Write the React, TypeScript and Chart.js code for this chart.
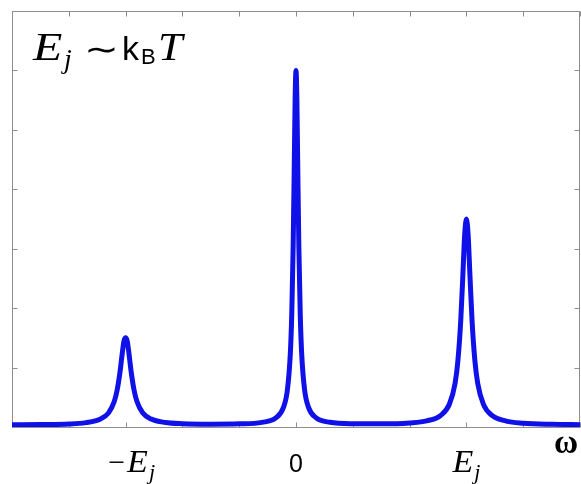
import { useEffect, useRef } from 'react';
import { Chart, registerables } from 'chart.js';

Chart.register(...registerables);

// Spectral density sampled along ω (in units where E_j = 3)
const omega = [
  -5.0, -4.5, -4.0, -3.7, -3.45, -3.3, -3.2, -3.15, -3.1, -3.06, -3.03, -3.0,
  -2.97, -2.94, -2.9, -2.85, -2.8, -2.7, -2.55, -2.3, -2.0, -1.5, -1.0, -0.6,
  -0.35, -0.22, -0.15, -0.1, -0.075, -0.05, -0.03, -0.015, 0.0, 0.015, 0.03,
  0.05, 0.075, 0.1, 0.15, 0.22, 0.35, 0.6, 1.0, 1.5, 2.0, 2.3, 2.55, 2.7, 2.8,
  2.85, 2.9, 2.94, 2.97, 3.0, 3.03, 3.06, 3.1, 3.15, 3.2, 3.3, 3.45, 3.7, 4.0,
  4.5, 5.0,
];
const intensity = [
  0.036, 0.04, 0.05, 0.074, 0.131, 0.238, 0.428, 0.616, 0.916, 1.23, 1.44, 1.5,
  1.44, 1.23, 0.916, 0.616, 0.428, 0.24, 0.133, 0.076, 0.056, 0.048, 0.053,
  0.078, 0.156, 0.331, 0.636, 1.236, 1.886, 3.036, 4.446, 5.536, 6.0, 5.536,
  4.446, 3.036, 1.886, 1.236, 0.636, 0.331, 0.158, 0.079, 0.055, 0.053, 0.069,
  0.103, 0.197, 0.382, 0.73, 1.11, 1.78, 2.6, 3.24, 3.5, 3.24, 2.6, 1.78, 1.11,
  0.73, 0.38, 0.195, 0.1, 0.065, 0.046, 0.039,
];

// Axis extents and minor tick positions
const xRange = [-5, 5];
const yRange = [0, 7];
const xTicks = [-5, -4, -3, -2, -1, 0, 1, 2, 3, 4, 5];
const yTicks = [0, 1, 2, 3, 4, 5, 6, 7];

// Labelled positions on ω
const labelValues = [-3, 0, 3];
const labelTexts = ['−E_j', '0', 'E_j'];

type Seg = { t: string; font: string; dy?: number; gap?: number; at?: number; sx?: number };

const SERIF = '"Liberation Serif", "DejaVu Serif", serif';
const SANS = '"Liberation Sans", Arial, sans-serif';

function drawSegs(ctx: CanvasRenderingContext2D, segs: Seg[], x: number, base: number, align: 'left' | 'center') {
  let total = 0;
  for (const s of segs) {
    ctx.font = s.font;
    total += (s.gap || 0) + ctx.measureText(s.t).width * (s.sx || 1);
  }
  let cx = align === 'center' ? x - total / 2 : x;
  ctx.textAlign = 'left';
  ctx.textBaseline = 'alphabetic';
  for (const s of segs) {
    ctx.font = s.font;
    cx = s.at !== undefined ? s.at : cx + (s.gap || 0);
    const sx = s.sx || 1;
    ctx.save();
    ctx.translate(cx, base + (s.dy || 0));
    ctx.scale(sx, 1);
    ctx.fillText(s.t, 0, 0);
    ctx.restore();
    cx += ctx.measureText(s.t).width * sx;
  }
}

function labelSegs(text: string): Seg[] {
  if (text === '0') return [{ t: '0', font: `25px ${SANS}` }];
  const neg = text.startsWith('−');
  const segs: Seg[] = [];
  if (neg) segs.push({ t: '−', font: `30px ${SERIF}` });
  segs.push({ t: 'E', font: `italic 31px ${SERIF}`, gap: neg ? 2 : 0, sx: 1.1 });
  segs.push({ t: 'j', font: `italic 22px ${SERIF}`, dy: 7, gap: 1 });
  return segs;
}

const frame = {
  id: 'frame',
  beforeDatasetsDraw(chart: any) {
    const { ctx, chartArea: a, scales } = chart;
    const x = scales.x;
    const y = scales.y;
    ctx.save();
    ctx.strokeStyle = '#8e8e8e';
    ctx.lineWidth = 1;
    const L = Math.round(a.left) + 0.5;
    const R = Math.round(a.right) - 0.5;
    const T = Math.round(a.top) + 0.5;
    const B = Math.round(a.bottom) + 0.5;
    ctx.strokeRect(L, T, R - L, B - T);
    ctx.beginPath();
    const len = 5;
    for (const v of xTicks) {
      const px = Math.round(x.getPixelForValue(v)) + 0.5;
      ctx.moveTo(px, T);
      ctx.lineTo(px, T + len);
      ctx.moveTo(px, B);
      ctx.lineTo(px, B - len);
    }
    for (const v of yTicks) {
      const py = Math.round(y.getPixelForValue(v)) + 0.5;
      ctx.moveTo(L, py);
      ctx.lineTo(L + len, py);
      ctx.moveTo(R, py);
      ctx.lineTo(R - len, py);
    }
    ctx.stroke();
    ctx.restore();
  },
  afterDraw(chart: any) {
    const { ctx, scales } = chart;
    const x = scales.x;
    ctx.save();
    ctx.fillStyle = '#000';
    labelValues.forEach((v, i) => {
      const text = labelTexts[i];
      const shift = text.startsWith('−') ? 6 : 0;
      drawSegs(ctx, labelSegs(text), x.getPixelForValue(v) + shift, 472, 'center');
    });
    // axis symbol
    ctx.font = `bold 33px ${SERIF}`;
    ctx.textAlign = 'left';
    ctx.textBaseline = 'alphabetic';
    ctx.fillText('ω', 554, 453);
    // regime annotation
    drawSegs(
      ctx,
      [
        { t: 'E', font: `italic 40px ${SERIF}`, at: 33, sx: 1.2 },
        { t: 'j', font: `italic 28px ${SERIF}`, dy: 8, at: 64 },
        { t: '∼', font: `32px "DejaVu Sans", ${SERIF}`, at: 84, sx: 1.3 },
        { t: 'k', font: `34px ${SANS}`, at: 122 },
        { t: 'B', font: `22px ${SANS}`, dy: 4, at: 141 },
        { t: 'T', font: `italic 40px ${SERIF}`, at: 158, sx: 1.1 },
      ],
      35,
      60,
      'left'
    );
    ctx.restore();
  },
};

export default function App() {
  const ref = useRef<HTMLCanvasElement | null>(null);

  useEffect(() => {
    if (!ref.current) return;
    const chart = new Chart(ref.current, {
      type: 'line',
      data: {
        datasets: [
          {
            data: omega.map((w, i) => ({ x: w, y: intensity[i] })),
            borderColor: 'rgb(16,16,232)',
            borderWidth: 5,
            pointRadius: 0,
            fill: false,
            cubicInterpolationMode: 'monotone',
            borderJoinStyle: 'round',
            borderCapStyle: 'round',
          },
        ],
      },
      options: {
        responsive: false,
        animation: false,
        devicePixelRatio: 1,
        layout: { padding: { left: 12, top: 11, right: 1, bottom: 57 } },
        scales: {
          x: { type: 'linear', min: xRange[0], max: xRange[1], display: false },
          y: { type: 'linear', min: yRange[0], max: yRange[1], display: false },
        },
        plugins: { legend: { display: false }, tooltip: { enabled: false } },
      },
      plugins: [frame],
    });
    return () => chart.destroy();
  }, []);

  return (
    <div style={{ position: 'fixed', left: 0, top: 0, width: 581, height: 484, background: '#fff' }}>
      <canvas ref={ref} width={581} height={484} style={{ display: 'block', width: 581, height: 484 }} />
    </div>
  );
}
